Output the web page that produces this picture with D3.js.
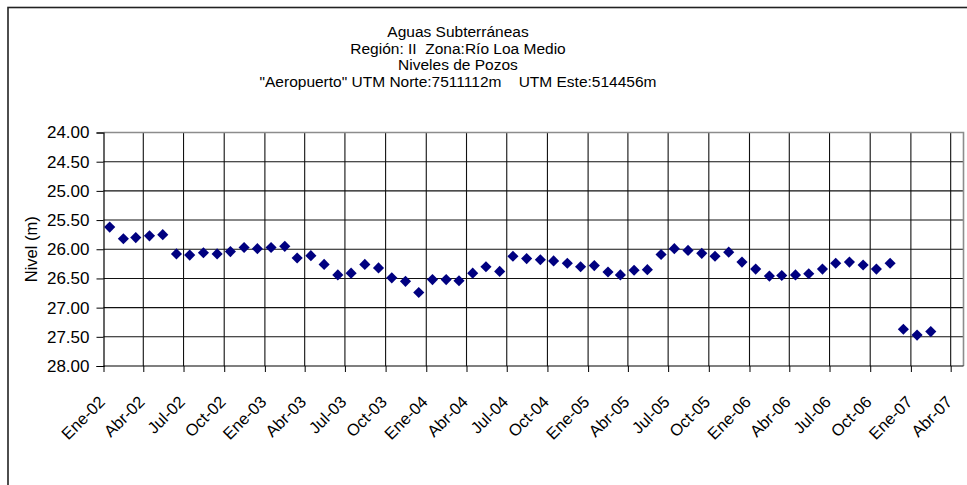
<!DOCTYPE html>
<html>
<head>
<meta charset="utf-8">
<script src="https://cdn.jsdelivr.net/npm/d3@7"></script>
<style>
  html, body { margin: 0; padding: 0; background: #fff; }
  svg { display: block; font-family: "Liberation Sans", Arial, sans-serif; }
</style>
</head>
<body>
<svg id="chart" width="967" height="485"></svg>
<script>
// Monthly well-level readings, "Aeropuerto" well (mid-month measurements)
const meses = [
  "2002-01","2002-02","2002-03","2002-04","2002-05","2002-06","2002-07","2002-08","2002-09","2002-10","2002-11","2002-12",
  "2003-01","2003-02","2003-03","2003-04","2003-05","2003-06","2003-07","2003-08","2003-09","2003-10","2003-11","2003-12",
  "2004-01","2004-02","2004-03","2004-04","2004-05","2004-06","2004-07","2004-08","2004-09","2004-10","2004-11","2004-12",
  "2005-01","2005-02","2005-03","2005-04","2005-05","2005-06","2005-07","2005-08","2005-09","2005-10","2005-11","2005-12",
  "2006-01","2006-02","2006-03","2006-04","2006-05","2006-06","2006-07","2006-08","2006-09","2006-10","2006-11","2006-12",
  "2007-01","2007-02"
];
const niveles = [
  25.62, 25.82, 25.80, 25.77, 25.75, 26.08, 26.10, 26.06, 26.08, 26.04, 25.97, 25.99,
  25.97, 25.95, 26.15, 26.11, 26.26, 26.44, 26.41, 26.26, 26.32, 26.49, 26.55, 26.74,
  26.52, 26.52, 26.54, 26.41, 26.30, 26.38, 26.12, 26.16, 26.18, 26.20, 26.24, 26.30,
  26.28, 26.39, 26.44, 26.36, 26.35, 26.09, 25.99, 26.02, 26.07, 26.12, 26.05, 26.22,
  26.34, 26.46, 26.45, 26.44, 26.42, 26.34, 26.24, 26.22, 26.27, 26.34, 26.24, 27.37,
  27.47, 27.41
];
const mesesAbrev = ["Ene","Feb","Mar","Abr","May","Jun","Jul","Ago","Sep","Oct","Nov","Dic"];
const nivelTicks = [24.0, 24.5, 25.0, 25.5, 26.0, 26.5, 27.0, 27.5, 28.0];
const titulo = [
  "Aguas Subterráneas",
  "Región: II  Zona:Río Loa Medio",
  "Niveles de Pozos",
  "\"Aeropuerto\" UTM Norte:7511112m    UTM Este:514456m"
];
const ejeY = "Nivel (m)";

const svg = d3.select("#chart");
const parse = d3.utcParse("%Y-%m-%d");
const datos = meses.map((m, i) => ({ fecha: parse(m + "-15"), nivel: niveles[i] }));

const plot = { left: 103.5, right: 963.5, top: 132.5, bottom: 366 };

const x = d3.scaleUtc()
  .domain([parse("2002-01-01"), parse("2007-04-30")])
  .range([plot.left, plot.right]);
const y = d3.scaleLinear()
  .domain([24, 28])
  .range([plot.top, plot.bottom]);

// chart area border
svg.append("rect")
  .attr("x", 8).attr("y", 7.5)
  .attr("width", 1000).attr("height", 500)
  .attr("fill", "#fff").attr("stroke", "#222").attr("stroke-width", 1.6);

// title
svg.append("g").selectAll("text").data(titulo).join("text")
  .attr("x", 458).attr("y", (d, i) => 37 + i * 16.5)
  .attr("text-anchor", "middle")
  .attr("font-size", 15.5)
  .attr("fill", "#000")
  .style("white-space", "pre")
  .text(d => d);

const quarterTicks = d3.utcMonth.every(3).range(parse("2002-01-01"), parse("2007-04-02"));
const fmtX = d => mesesAbrev[d.getUTCMonth()] + "-" + d3.utcFormat("%y")(d);

// horizontal gridlines
svg.append("g").selectAll("line")
  .data(nivelTicks.filter(v => v > 24 && v < 28)).join("line")
  .attr("x1", plot.left).attr("x2", plot.right)
  .attr("y1", d => y(d)).attr("y2", d => y(d))
  .attr("stroke", "#111").attr("stroke-width", 1.1);

// vertical gridlines
svg.append("g").selectAll("line")
  .data(quarterTicks.slice(1)).join("line")
  .attr("x1", d => x(d)).attr("x2", d => x(d))
  .attr("y1", plot.top).attr("y2", plot.bottom)
  .attr("stroke", "#111").attr("stroke-width", 1.1);

// plot area border (top / right)
svg.append("path")
  .attr("d", `M${plot.left},${plot.top}H${plot.right}V${plot.bottom}`)
  .attr("fill", "none").attr("stroke", "#8c8c8c").attr("stroke-width", 1.6);

// y axis
const yAxis = d3.axisLeft(y).tickValues(nivelTicks).tickFormat(d3.format(".2f")).tickSize(7).tickPadding(7);
const gy = svg.append("g").attr("transform", `translate(${plot.left},0)`).call(yAxis);
gy.select(".domain").attr("stroke", "#000").attr("stroke-width", 1.2);
gy.selectAll(".tick line").attr("stroke", "#000");
gy.selectAll(".tick text").attr("font-size", 17).attr("font-family", "Liberation Sans, Arial, sans-serif").attr("fill", "#000");

// x axis
const xAxis = d3.axisBottom(x).tickValues(quarterTicks).tickFormat(fmtX).tickSize(6).tickSizeOuter(0);
const gx = svg.append("g").attr("transform", `translate(0,${plot.bottom})`).call(xAxis);
gx.select(".domain").attr("stroke", "#000").attr("stroke-width", 1.2)
  .attr("d", `M${plot.left},0H${plot.right}`);
gx.selectAll(".tick line").attr("stroke", "#000");
gx.selectAll(".tick text")
  .attr("font-size", 16.5).attr("font-family", "Liberation Sans, Arial, sans-serif").attr("fill", "#000")
  .attr("text-anchor", "end")
  .attr("dy", null).attr("y", null)
  .attr("transform", "translate(2,37) rotate(-45)");

// axis title
svg.append("text")
  .attr("transform", `translate(37,${(plot.top + plot.bottom) / 2}) rotate(-90)`)
  .attr("text-anchor", "middle")
  .attr("font-size", 16.5)
  .text(ejeY);

// diamond markers
const diamante = d3.symbol().type(d3.symbolSquare).size(62);
svg.append("g").selectAll("path").data(datos).join("path")
  .attr("d", diamante)
  .attr("transform", d => `translate(${x(d.fecha)},${y(d.nivel)}) rotate(45)`)
  .attr("fill", "#000080");
</script>
</body>
</html>
